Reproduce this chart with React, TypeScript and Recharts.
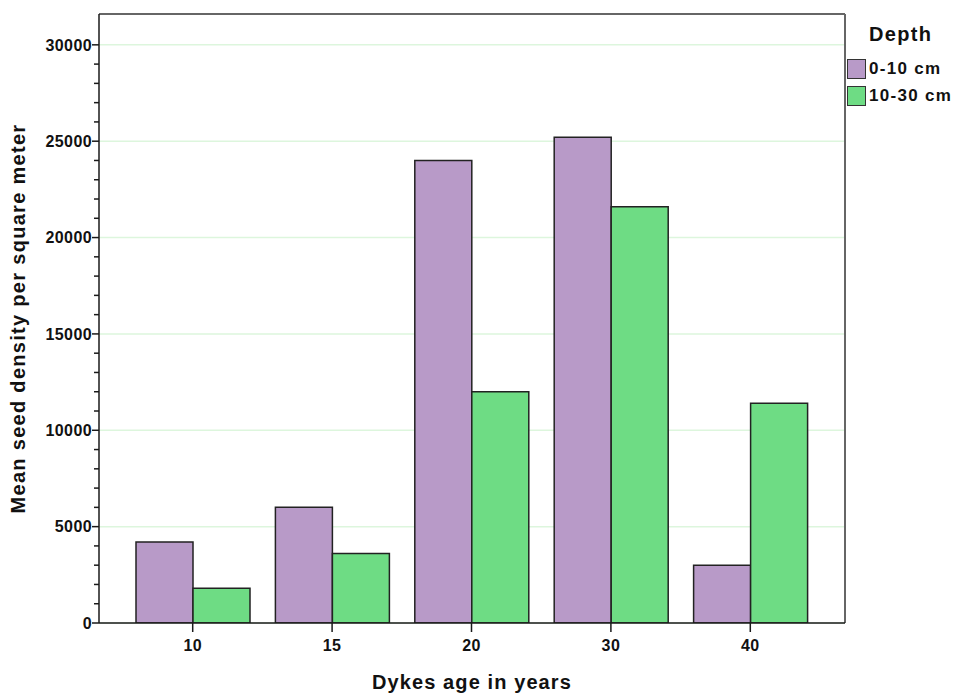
import { Bar, BarChart, CartesianGrid, ReferenceLine, XAxis, YAxis } from 'recharts'

const ages = ['10', '15', '20', '30', '40']
const shallowDensity = [4200, 6000, 24000, 25200, 3000]
const deepDensity = [1800, 3600, 12000, 21600, 11400]

const majorTicks = [0, 5000, 10000, 15000, 20000, 25000, 30000]
const allTicks = Array.from({ length: 31 }, (_, i) => i * 1000)
const yDomain = [0, 31600]
const frameEnd = ages.length - 1

const seriesInfo = [
  { key: 'shallow', name: '0-10 cm', color: '#B89AC8' },
  { key: 'deep', name: '10-30 cm', color: '#6EDC84' },
]

const data = ages.map((age, i) => ({
  age,
  shallow: shallowDensity[i],
  deep: deepDensity[i],
}))

const FONT = '"Liberation Sans", Arial, sans-serif'
const AXIS = '#1a1a1a'
const FRAME = '#666666'

function YTick(props: any) {
  const { x, y, payload } = props
  const major = payload.value % 5000 === 0
  return (
    <g>
      <line x1={x - (major ? 7 : 5)} x2={x} y1={y} y2={y} stroke={AXIS} strokeWidth={1.5} />
      {major && (
        <text
          x={x - 7}
          y={y}
          dy="0.36em"
          textAnchor="end"
          fontFamily={FONT}
          fontWeight="bold"
          fontSize={16}
          letterSpacing={0.4}
          fill="#111"
        >
          {payload.value}
        </text>
      )}
    </g>
  )
}

function XTick(props: any) {
  const { x, y, payload } = props
  return (
    <g>
      <line x1={x} x2={x} y1={y} y2={y + 9} stroke={AXIS} strokeWidth={1.5} />
      <text
        x={x}
        y={y + 28}
        textAnchor="middle"
        fontFamily={FONT}
        fontWeight="bold"
        fontSize={16}
        letterSpacing={0.4}
        fill="#111"
      >
        {payload.value}
      </text>
    </g>
  )
}

export default function App() {
  return (
    <div style={{ position: 'absolute', left: 0, top: 0, width: 956, height: 695, background: '#fff' }}>
      <BarChart
        width={956}
        height={695}
        data={data}
        margin={{ top: 14, right: 111, bottom: 0, left: 0 }}
        barGap={0}
        barSize={57}
      >
        <CartesianGrid vertical={false} yAxisId="grid" stroke="#DDF6DD" strokeWidth={1.5} />
        <ReferenceLine y={31600} stroke={FRAME} strokeWidth={2} ifOverflow="visible" />
        <ReferenceLine x={frameEnd} xAxisId="frame" stroke={FRAME} strokeWidth={2} ifOverflow="visible" />
        <XAxis
          dataKey="age"
          height={72}
          padding={{ left: 24, right: 25 }}
          axisLine={{ stroke: AXIS, strokeWidth: 1.5 }}
          tickLine={false}
          tickSize={0}
          tickMargin={0}
          tick={<XTick />}
          interval={0}
          label={{
            content: (p: any) => {
              const vb = p.viewBox
              return (
                <text
                  x={vb.x + vb.width / 2}
                  y={689}
                  textAnchor="middle"
                  fontFamily={FONT}
                  fontWeight="bold"
                  fontSize={20}
                  letterSpacing={1.1}
                  fill="#111"
                >
                  Dykes age in years
                </text>
              )
            },
          }}
        />
        <XAxis xAxisId="frame" type="number" domain={[0, frameEnd]} hide allowDataOverflow />
        <YAxis
          width={99}
          domain={yDomain}
          ticks={allTicks}
          interval={0}
          allowDataOverflow
          axisLine={{ stroke: AXIS, strokeWidth: 1.5 }}
          tickLine={false}
          tickSize={0}
          tickMargin={0}
          tick={<YTick />}
          label={{
            content: (p: any) => {
              const vb = p.viewBox
              const cy = vb.y + vb.height / 2
              return (
                <text
                  x={20}
                  y={cy}
                  transform={`rotate(-90 20 ${cy})`}
                  textAnchor="middle"
                  dominantBaseline="middle"
                  fontFamily={FONT}
                  fontWeight="bold"
                  fontSize={20}
                  letterSpacing={1.3}
                  fill="#111"
                >
                  Mean seed density per square meter
                </text>
              )
            },
          }}
        />
        <YAxis
          yAxisId="grid"
          hide
          domain={yDomain}
          ticks={majorTicks}
          interval={0}
          allowDataOverflow
        />
        {seriesInfo.map((s) => (
          <Bar
            key={s.key}
            dataKey={s.key}
            name={s.name}
            fill={s.color}
            stroke="#222"
            strokeWidth={1.5}
            isAnimationActive={false}
          />
        ))}
      </BarChart>
      <div
        style={{
          position: 'absolute',
          left: 847,
          top: 23,
          fontFamily: FONT,
          fontWeight: 'bold',
          color: '#111',
        }}
      >
        <div style={{ fontSize: 20, letterSpacing: 1.3, marginLeft: 22, marginBottom: 9 }}>Depth</div>
        {seriesInfo.map((s) => (
          <div
            key={s.key}
            style={{ display: 'flex', alignItems: 'center', height: 27, fontSize: 17, letterSpacing: 1.3, whiteSpace: 'nowrap' }}
          >
            <span
              style={{
                display: 'inline-block',
                width: 17,
                height: 18,
                background: s.color,
                border: '1.5px solid #333',
                marginRight: 3,
              }}
            />
            {s.name}
          </div>
        ))}
      </div>
    </div>
  )
}
